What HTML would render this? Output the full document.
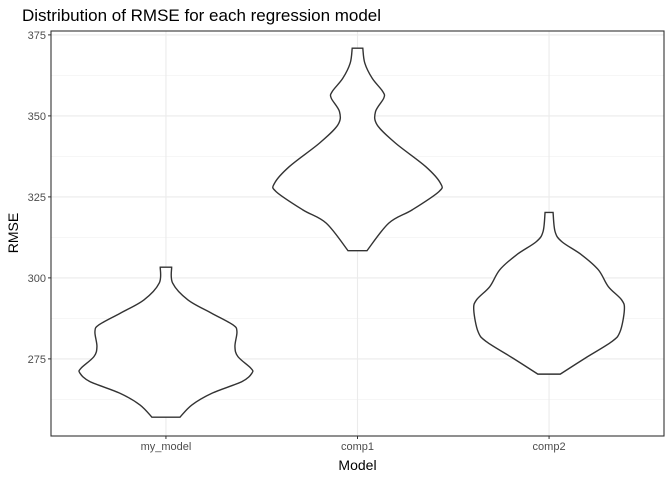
<!DOCTYPE html>
<html><head><meta charset="utf-8"><style>
body{margin:0;background:#fff;}
svg{display:block;font-family:"Liberation Sans",sans-serif;}
</style></head><body>
<svg id="chart" width="672" height="480" viewBox="0 0 672 480" xmlns="http://www.w3.org/2000/svg">
<text x="22" y="21" font-size="17" fill="#000">Distribution of RMSE for each regression model</text>
<text transform="translate(18,233) rotate(-90)" text-anchor="middle" font-size="14" fill="#000">RMSE</text>
<text x="357.5" y="470" text-anchor="middle" font-size="14" fill="#000">Model</text>
<g id="grid"></g><g id="marks"></g><g id="axes"></g>
</svg>
<script>
const categories = ["my_model","comp1","comp2"];
const yTicks = [275,300,325,350,375];
const yMinor = [262.5,287.5,312.5,337.5,362.5];
// RMSE values along each violin profile (top to bottom) and relative density (half-width)
const rmseMy = [303.3,298.4,293.2,289.1,285.5,283.4,278.8,275.7,272.1,270.6,268,264.4,260.8,257];
const densMy = [0.057,0.067,0.22,0.457,0.67,0.71,0.69,0.72,0.85,0.86,0.76,0.46,0.26,0.14];
const rmseC1 = [370.9,366.3,361.6,357.5,355.5,351.3,347.2,341.6,334.4,329.2,326.6,321,316.9,308.4];
const densC1 = [0.053,0.073,0.147,0.253,0.263,0.18,0.197,0.38,0.68,0.83,0.813,0.547,0.313,0.095];
const rmseC2 = [320.2,314.3,311.2,307.1,302.5,297.3,293.2,290.1,283.4,280.3,275.2,270.3];
const densC2 = [0.04,0.06,0.127,0.326,0.493,0.593,0.726,0.753,0.71,0.626,0.36,0.112];
const series = [[rmseMy,densMy],[rmseC1,densC1],[rmseC2,densC2]];

const NS="http://www.w3.org/2000/svg";
const L=51,R=664,T=31,B=436;
const yMin=251.2,yMax=376.2;
const y=v=>B-(v-yMin)/(yMax-yMin)*(B-T);
const x=i=>L+(i+0.6)/(categories.length+0.2)*(R-L);
const w=d=>d*100;
function mk(tag,attrs,parent){const e=document.createElementNS(NS,tag);for(const k in attrs)e.setAttribute(k,attrs[k]);parent.appendChild(e);return e;}
const grid=document.getElementById('grid'),marks=document.getElementById('marks'),axes=document.getElementById('axes');
const bg=mk('rect',{x:L,y:T,width:R-L,height:B-T,fill:'#fff'},grid);


yMinor.forEach(v=>{const l=mk('line',{x1:L,x2:R,y1:y(v),y2:y(v),stroke:'#f0f0f0','stroke-width':0.6},grid);

});
yTicks.forEach(v=>{const l=mk('line',{x1:L,x2:R,y1:y(v),y2:y(v),stroke:'#ebebeb','stroke-width':1.1},grid);

});
categories.forEach((c,i)=>{const l=mk('line',{x1:x(i),x2:x(i),y1:T,y2:B,stroke:'#ebebeb','stroke-width':1.1},grid);

});
function smooth(pts){let d='';for(let i=0;i<pts.length-1;i++){const p0=pts[Math.max(i-1,0)],p1=pts[i],p2=pts[i+1],p3=pts[Math.min(i+2,pts.length-1)];
const c1=[p1[0]+(p2[0]-p0[0])/6,p1[1]+(p2[1]-p0[1])/6],c2=[p2[0]-(p3[0]-p1[0])/6,p2[1]-(p3[1]-p1[1])/6];
d+=` C${c1[0]},${c1[1]} ${c2[0]},${c2[1]} ${p2[0]},${p2[1]}`;}return d;}
series.forEach((s,i)=>{const cx=x(i);const [vals,dens]=s;
const right=vals.map((v,k)=>[cx+w(dens[k]),y(v)]);
const left=vals.map((v,k)=>[cx-w(dens[k]),y(v)]).reverse();
let d=`M${left[left.length-1][0]},${left[left.length-1][1]} L${right[0][0]},${right[0][1]}`+smooth(right)+` L${left[0][0]},${left[0][1]}`+smooth(left)+' Z';
const p=mk('path',{d:d,fill:'#fff',stroke:'#333','stroke-width':1.4},marks);

});
const fr=mk('rect',{x:L,y:T,width:R-L,height:B-T,fill:'none',stroke:'#333','stroke-width':1.1},axes);


yTicks.forEach(v=>{mk('line',{x1:L-3,x2:L,y1:y(v),y2:y(v),stroke:'#333'},axes);
const t=mk('text',{x:L-5,y:y(v)+4,'text-anchor':'end','font-size':11,fill:'#4d4d4d'},axes);t.textContent=v;

});
categories.forEach((c,i)=>{mk('line',{x1:x(i),x2:x(i),y1:B,y2:B+3,stroke:'#333'},axes);
const t=mk('text',{x:x(i),y:B+14,'text-anchor':'middle','font-size':11,fill:'#4d4d4d'},axes);t.textContent=c;

});
</script>
</body></html>
